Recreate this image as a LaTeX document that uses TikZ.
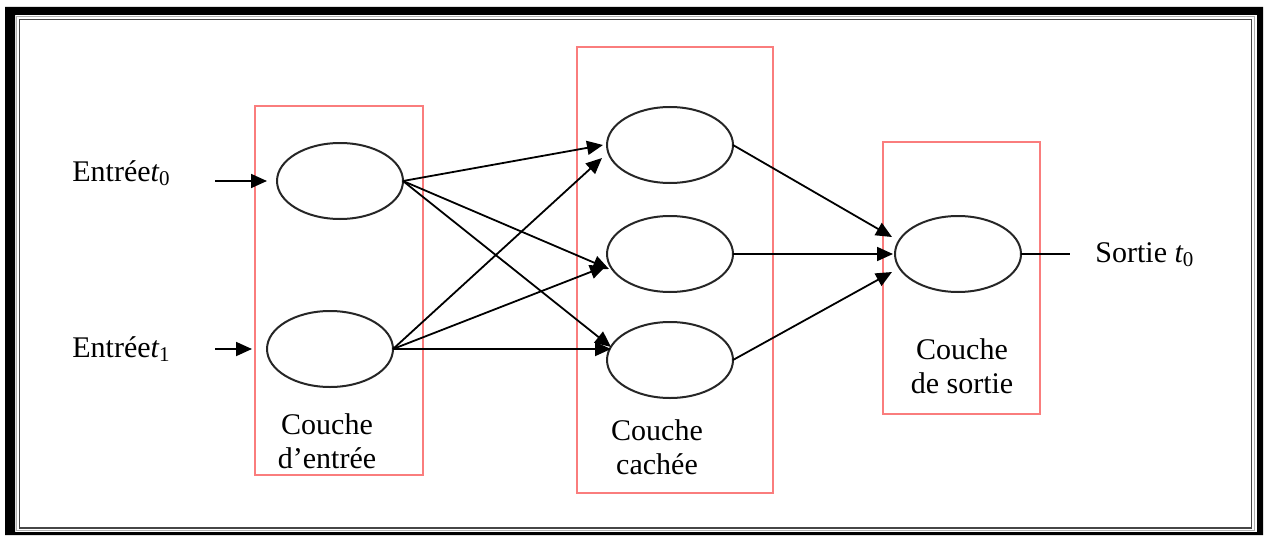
\documentclass[tikz,border=0pt]{standalone}
\usepackage{fontspec}
\setmainfont{Liberation Serif}
\usetikzlibrary{arrows.meta,shapes.geometric,calc}
\definecolor{layerred}{RGB}{250,125,125}
\definecolor{framelight}{RGB}{175,175,175}
\definecolor{framedark}{RGB}{70,70,70}

\begin{document}
\begin{tikzpicture}[x=0.5pt,y=-0.5pt,
  neuron/.style={ellipse,draw=black!85,line width=1pt,minimum width=63pt,
    minimum height=38pt,inner sep=0pt,outer sep=0pt},
  layerbox/.style={draw=layerred,line width=0.9pt,inner sep=0pt,outer sep=0pt},
  link/.style={draw=black,line width=0.9pt,-{Triangle[length=8pt,width=7pt]}},
  lbl/.style={font=\fontsize{15}{17}\selectfont,inner sep=0pt,align=center},
]
\useasboundingbox (0,0) rectangle (1267,535);

% double frame round the whole figure
\fill[black,even odd rule] (5,7) rectangle (1263,535) (15,15) rectangle (1257,532);
\draw[framelight,line width=0.8pt] (16.5,16.5) rectangle (1254.5,530.5);
\draw[framedark,line width=0.8pt] (19.5,19.5) rectangle (1251.5,528);

% layer frames
\node[layerbox,minimum width=84pt,minimum height=184.5pt] (Lin) at (339,290.5) {};
\node[layerbox,minimum width=98pt,minimum height=223pt] (Lhid) at (675,270) {};
\node[layerbox,minimum width=78.5pt,minimum height=136pt] (Lout) at (961.5,278) {};

% neurons
\node[neuron] (i0) at (340,181) {};
\node[neuron] (i1) at (330,349) {};
\node[neuron] (h0) at (670,145) {};
\node[neuron] (h1) at (670,254) {};
\node[neuron] (h2) at (670,360) {};
\node[neuron] (o0) at (958,254) {};

% texts
\node[lbl,anchor=base west] (e0) at (72,181) {Entrée{\itshape t}\textsubscript{0}};
\node[lbl,anchor=base west] (e1) at (72,357) {Entrée{\itshape t}\textsubscript{1}};
\node[lbl,anchor=base west] (s0) at (1095,262) {Sortie {\itshape t}\textsubscript{0}};
\node[lbl] (tin) at (327,441) {Couche\\d’entrée};
\node[lbl] (thid) at (657,447) {Couche\\cachée};
\node[lbl] (tout) at (962,366) {Couche\\de sortie};

% inputs
\coordinate (a0) at (215,181);
\coordinate (a1) at (215,349);
\draw[link] (a0) -- ($(i0.west)+(-10,0)$);
\draw[link] (a1) -- ($(i1.west)+(-15,0)$);

% input layer -> hidden layer
\draw[link] (i0.east) -- ($(h0.west)+(-4,0)$);
\draw[link] (i0.east) -- ($(h1.west)+(2,15)$);
\draw[link] (i0.east) -- ($(h2.west)+(4,-13)$);
\draw[link] (i1.east) -- ($(h0.west)+(-5,13)$);
\draw[link] (i1.east) -- ($(h1.west)+(-1,12)$);
\draw[link] (i1.east) -- ($(h2.west)+(4,-11)$);

% hidden layer -> output layer
\draw[link] (h0.east) -- ($(o0.west)+(-3,-17)$);
\draw[link] (h1.east) -- ($(o0.west)+(-2,0)$);
\draw[link] (h2.east) -- ($(o0.west)+(-3,18)$);

% output
\coordinate (z0) at (1070,254);
\draw[line width=0.9pt] (o0.east) -- (z0);
\end{tikzpicture}
\end{document}
